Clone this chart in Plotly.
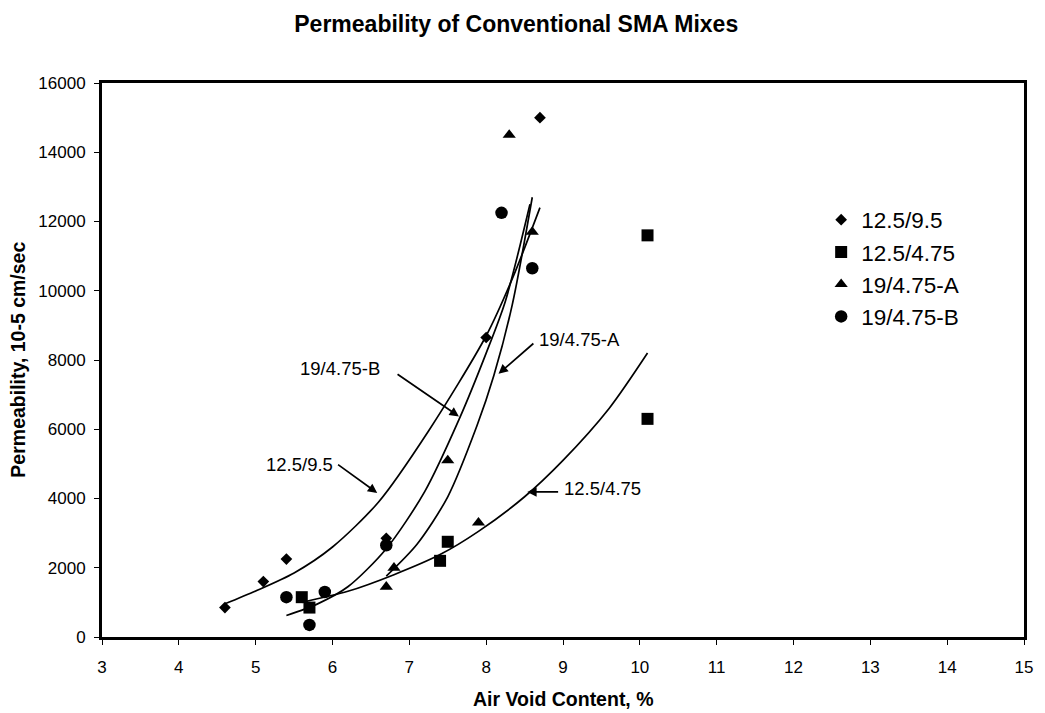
import plotly.graph_objects as go

# ---- data ----
names = ["12.5/9.5", "12.5/4.75", "19/4.75-A", "19/4.75-B"]

# measured points
x_125_95 = [4.6, 5.1, 5.4, 6.7, 8.0, 8.7]
y_125_95 = [850, 1600, 2250, 2850, 8650, 15000]
x_125_475 = [5.6, 5.7, 7.4, 7.5, 10.1, 10.1]
y_125_475 = [1150, 850, 2200, 2750, 6300, 11600]
x_19_A = [6.7, 6.8, 7.5, 7.9, 8.3, 8.6]
y_19_A = [1450, 2000, 5100, 3300, 14500, 11700]
x_19_B = [5.4, 5.7, 5.9, 6.7, 8.2, 8.6]
y_19_B = [1150, 350, 1300, 2650, 12250, 10650]

# trend curves
tx_125_95 = [4.6, 5.0, 5.5, 6.0, 6.6, 7.25, 8.0, 8.35, 8.7]
ty_125_95 = [960, 1330, 1850, 2600, 3900, 5950, 8700, 10400, 12400]
tx_125_475 = [5.6, 6.2, 6.8, 7.4, 7.9, 8.5, 9.0, 9.6, 10.1]
ty_125_475 = [1000, 1320, 1800, 2380, 3050, 4050, 5100, 6600, 8200]
tx_19_A = [6.7, 7.1, 7.5, 7.88, 8.1, 8.34, 8.6]
ty_19_A = [1760, 2680, 4050, 6100, 7550, 9600, 12700]
tx_19_B = [5.4, 5.8, 6.2, 6.7, 7.2, 7.65, 8.0, 8.25, 8.57]
ty_19_B = [620, 950, 1450, 2550, 4200, 6300, 8200, 9700, 12500]

x_ticks = list(range(3, 16))
y_ticks = list(range(0, 16001, 2000))

series = [
    (names[0], x_125_95, y_125_95, tx_125_95, ty_125_95, "diamond", 9),
    (names[1], x_125_475, y_125_475, tx_125_475, ty_125_475, "square", 12),
    (names[2], x_19_A, y_19_A, tx_19_A, ty_19_A, "triangle-up", 11.5),
    (names[3], x_19_B, y_19_B, tx_19_B, ty_19_B, "circle", 12.5),
]

FONT = "Liberation Sans, Arial, sans-serif"
fig = go.Figure()

for name, xs, ys, txs, tys, sym, sz in series:
    fig.add_trace(go.Scatter(x=txs, y=tys, mode="lines",
                             line=dict(color="black", width=1.7, shape="spline",
                                       smoothing=0.8),
                             showlegend=False, hoverinfo="skip"))

for name, xs, ys, txs, tys, sym, sz in series:
    fig.add_trace(go.Scatter(x=xs, y=ys, mode="markers", name=name,
                             marker=dict(symbol=sym, size=sz, color="black",
                                         line=dict(width=0))))

ann = []
def label(text, tx, ty, x0, y0, x1, y1):
    ann.append(dict(x=tx, y=ty, xref="x", yref="y", text=text, showarrow=False,
                    font=dict(family=FONT, size=18.5, color="black")))
    ann.append(dict(x=x1, y=y1, ax=x0, ay=y0, xref="x", yref="y", axref="x", ayref="y",
                    text="", showarrow=True, arrowhead=2, arrowsize=1.1,
                    arrowwidth=1.7, arrowcolor="black"))

label("19/4.75-B", 6.097, 7747, 6.827, 7620, 7.645, 6371)
label("19/4.75-A", 9.214, 8583, 8.634, 8514, 8.161, 7603)
label("12.5/9.5", 5.568, 4979, 6.053, 5008, 6.582, 4160)
label("12.5/4.75", 9.516, 4287, 8.956, 4189, 8.535, 4189)

# axis titles
ann.append(dict(x=-0.0915, y=0.5, xref="paper", yref="paper", textangle=-90,
                xanchor="center", yanchor="middle",
                text="<b>Permeability, 10-5 cm/sec</b>", showarrow=False,
                font=dict(family=FONT, size=19.5, color="black")))
ann.append(dict(x=0.5, y=-0.112, xref="paper", yref="paper",
                xanchor="center", yanchor="middle",
                text="<b>Air Void Content, %</b>", showarrow=False,
                font=dict(family=FONT, size=19.5, color="black")))

fig.update_layout(
    width=1045, height=713,
    margin=dict(l=102, r=13, t=83, b=76),
    paper_bgcolor="white", plot_bgcolor="white",
    font=dict(family=FONT, size=17, color="black"),
    title=dict(text="<b>Permeability of Conventional SMA Mixes</b>",
               x=0.494, xanchor="center", xref="container",
               y=1 - 24 / 713, yanchor="middle", yref="container",
               font=dict(family=FONT, size=23, color="black")),
    showlegend=True,
    legend=dict(x=0.780, y=0.7915, xanchor="left", yanchor="top",
                font=dict(family=FONT, size=22.5, color="black"),
                bgcolor="rgba(0,0,0,0)", tracegroupgap=0, itemwidth=30),
    annotations=ann,
    xaxis=dict(range=[3, 15], tickvals=x_ticks, ticks="outside", ticklen=5,
               tickwidth=1, tickcolor="black", showgrid=False, zeroline=False,
               showline=True, linewidth=3, linecolor="black", mirror=True,
               ticklabelstandoff=8),
    yaxis=dict(range=[0, 16000], tickvals=y_ticks, tickformat="d",
               ticks="outside", ticklen=5,
               tickwidth=1, tickcolor="black", showgrid=False, zeroline=False,
               showline=True, linewidth=3, linecolor="black", mirror=True,
               ticklabelstandoff=5),
)

fig.write_html("out.html")
